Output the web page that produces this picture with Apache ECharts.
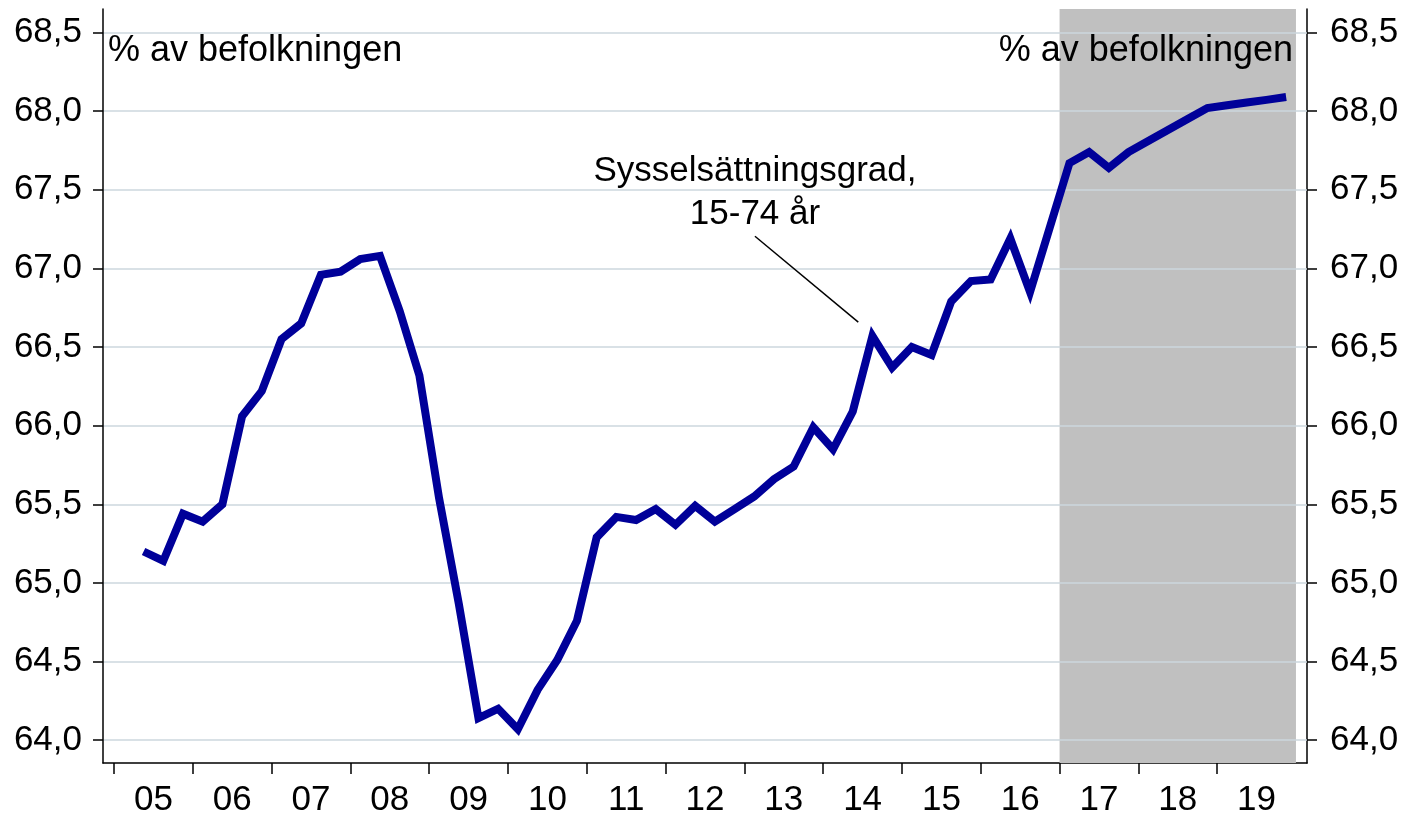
<!DOCTYPE html>
<html>
<head>
    <meta charset="utf-8">
    <script src="https://cdn.jsdelivr.net/npm/echarts@6/dist/echarts.min.js"></script>
    <style>
        * {margin: 0; padding: 0;}
        #main {width: 1407px; height: 818px; background: #fff;}
    </style>
</head>
<body>
<div id="main"></div>
<script type="text/javascript">
// Sysselsättningsgrad 15-74 år, kvartal 2005K1 - 2019K4 (% av befolkningen)
const START_YEAR = 2005;
const rate = [
    null, 65.20, 65.14, 65.44,
    65.39, 65.50, 66.06, 66.22,
    66.55, 66.65, 66.96, 66.98,
    67.06, 67.08, 66.73, 66.32,
    65.54, 64.87, 64.14, 64.20,
    64.07, 64.32, 64.51, 64.76,
    65.29, 65.42, 65.40, 65.47,
    65.37, 65.49, 65.39, 65.47,
    65.55, 65.66, 65.74, 65.99,
    65.85, 66.09, 66.57, 66.37,
    66.50, 66.45, 66.79, 66.92,
    66.93, 67.19, 66.85, 67.26,
    67.67, 67.74, 67.64, 67.74,
    67.81, 67.88, 67.95, 68.02,
    68.038, 68.055, 68.072, 68.09
];
const yearTicks = [2005, 2006, 2007, 2008, 2009, 2010, 2011, 2012, 2013, 2014, 2015, 2016, 2017, 2018, 2019];
const valueTicks = [64, 64.5, 65, 65.5, 66, 66.5, 67, 67.5, 68, 68.5];
// prognosperiod (grått fält)
const forecast = [2017, 2020];
// pil till etiketten
const pointer = [[2013.134, 67.205], [2014.445, 66.659]];

const FONT = '"Liberation Sans", Arial, sans-serif';
const FONT_SIZE = 35;

// kvartalen placeras mitt i sitt kvartal
const seriesData = rate.map((v, i) => [START_YEAR + (i + 0.5) / 4, v]);
const yearLabels = yearTicks.map(y => y + 0.5);

const fmtValue = v => v.toFixed(1).replace('.', ',');

const yAxisBase = {
    type: 'value',
    min: 63.855,
    max: 68.65,
    axisLine: {show: true, lineStyle: {color: '#000', width: 1.5}},
    axisTick: {show: true, length: 10, customValues: valueTicks, lineStyle: {color: '#000', width: 1.5}},
    axisLabel: {
        customValues: valueTicks,
        formatter: fmtValue,
        color: '#000',
        fontFamily: FONT,
        fontSize: FONT_SIZE
    }
};

const chart = echarts.init(document.getElementById('main'));
chart.setOption({
    animation: false,
    grid: {left: 103, right: 100, top: 9, bottom: 54},
    xAxis: {
        type: 'value',
        min: 2004.86,
        max: 2020.14,
        splitLine: {show: false},
        axisLine: {lineStyle: {color: '#000', width: 1.5}},
        axisTick: {length: 11, customValues: yearTicks, lineStyle: {color: '#000', width: 1.5}},
        axisLabel: {
            customValues: yearLabels,
            formatter: v => String(Math.floor(v)).slice(2),
            margin: 20,
            color: '#000',
            fontFamily: FONT,
            fontSize: FONT_SIZE
        }
    },
    yAxis: [
        Object.assign({}, yAxisBase, {
            position: 'left',
            z: 1.5,
            splitLine: {show: true, lineStyle: {color: '#cdd7de', width: 1.5}},
            axisLabel: Object.assign({}, yAxisBase.axisLabel, {margin: 21})
        }),
        Object.assign({}, yAxisBase, {
            position: 'right',
            splitLine: {show: false},
            axisLabel: Object.assign({}, yAxisBase.axisLabel, {margin: 23})
        })
    ],
    series: [{
        type: 'line',
        data: seriesData,
        showSymbol: false,
        z: 3,
        lineStyle: {color: '#000099', width: 8, join: 'miter', cap: 'butt'},
        markArea: {
            silent: true,
            itemStyle: {color: '#c0c0c0'},
            data: [[{xAxis: forecast[0]}, {xAxis: forecast[1]}]]
        },
        markLine: {
            silent: true,
            symbol: ['none', 'none'],
            label: {show: false},
            lineStyle: {color: '#000', width: 1.5, type: 'solid'},
            data: [[{coord: pointer[0]}, {coord: pointer[1]}]]
        }
    }],
    graphic: [
        {
            type: 'text', left: 108, top: 33, z: 10,
            style: {text: '% av befolkningen', font: `36px ${FONT}`, fill: '#000'}
        },
        {
            type: 'text', right: 1407 - 1293, top: 33, z: 10,
            style: {text: '% av befolkningen', font: `36px ${FONT}`, fill: '#000'}
        },
        {
            type: 'text', x: 755, y: 150, z: 10,
            style: {
                text: 'Sysselsättningsgrad,\n15-74 år',
                font: `${FONT_SIZE}px ${FONT}`,
                lineHeight: 43,
                fill: '#000',
                align: 'center',
                verticalAlign: 'top'
            }
        }
    ]
});
</script>
</body>
</html>
